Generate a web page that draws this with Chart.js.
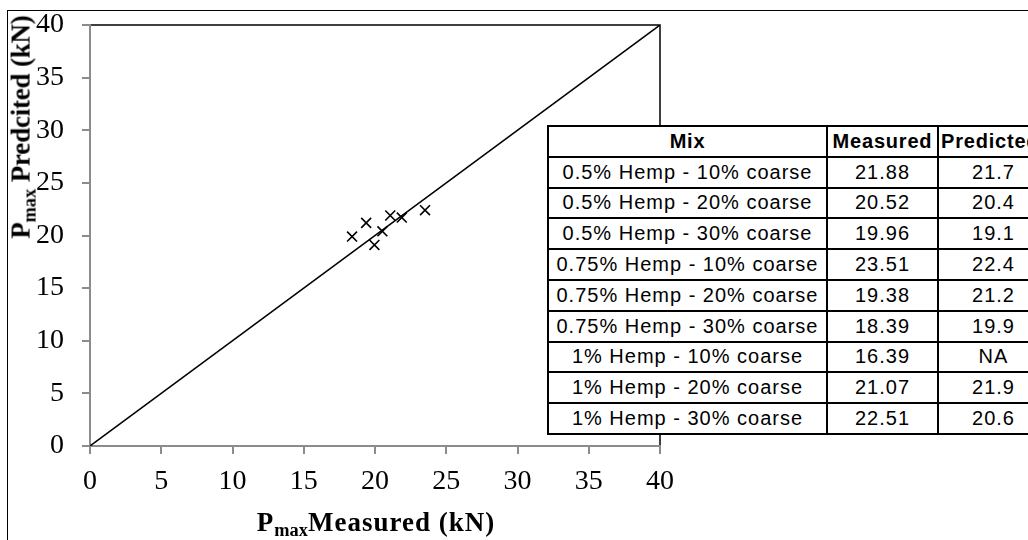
<!DOCTYPE html>
<html lang="en">
<head>
  <meta charset="UTF-8">
  <title>Pmax Measured vs Predicted</title>
  <style>
    html, body {
      margin: 0;
      padding: 0;
      background: #ffffff;
      width: 1028px;
      height: 540px;
      overflow: hidden;
    }
    .wrap {
      position: relative;
      width: 1028px;
      height: 540px;
      overflow: hidden;
    }
    .frame {
      position: absolute;
      left: 7px;
      top: 10px;
      width: 2000px;
      height: 2000px;
      border: 1px solid #000;
      box-sizing: border-box;
    }
    canvas {
      position: absolute;
      left: 0;
      top: 0;
    }
    .axis-title {
      position: absolute;
      font-family: 'Liberation Serif', 'Times New Roman', serif;
      font-weight: bold;
      font-size: 27px;
      white-space: nowrap;
      color: #000;
      line-height: 1;
    }
    .axis-title sub {
      font-size: 0.68em;
      vertical-align: -0.3em;
      letter-spacing: 0;
    }
    #xTitle {
      left: 376px;
      top: 524px;
      letter-spacing: 1px;
      transform: translate(-50%, -50%);
    }
    #yTitle {
      left: 23px;
      top: 127px;
      letter-spacing: -0.2px;
      transform: translate(-50%, -50%) rotate(-90deg);
    }
    table {
      position: absolute;
      left: 547px;
      top: 125px;
      width: 501px;
      max-width: none;
      border-collapse: collapse;
      font-family: 'Liberation Sans', Arial, sans-serif;
      font-size: 20px;
      letter-spacing: 1px;
      color: #000;
      background: #fff;
      table-layout: fixed;
    }
    td, th {
      border: 2px solid #000;
      height: 28.8px;
      padding: 0;
      text-align: center;
      white-space: nowrap;
      overflow: visible;
    }
    th { font-weight: bold; letter-spacing: 0.8px; }
    th.left { text-align: left; padding-left: 2px; }
  </style>
</head>
<body>
  <div class="wrap">
    <div class="frame"></div>
    <canvas id="chart" width="1028" height="540"></canvas>
    <div class="axis-title" id="xTitle">P<sub>max</sub>Measured (kN)</div>
    <div class="axis-title" id="yTitle">P<sub>max</sub> Predcited (kN)</div>
    <table id="mixTable">
      <colgroup>
        <col style="width:279px">
        <col style="width:111px">
        <col style="width:111px">
      </colgroup>
    </table>
  </div>

  <script src="https://cdn.jsdelivr.net/npm/chart.js"></script>
  <script>
    // table / data
    const headers = ["Mix", "Measured", "Predicted"];
    const mixes = [
      "0.5% Hemp - 10% coarse",
      "0.5% Hemp - 20% coarse",
      "0.5% Hemp - 30% coarse",
      "0.75% Hemp - 10% coarse",
      "0.75% Hemp - 20% coarse",
      "0.75% Hemp - 30% coarse",
      "1% Hemp - 10% coarse",
      "1% Hemp - 20% coarse",
      "1% Hemp - 30% coarse"
    ];
    const measured = ["21.88", "20.52", "19.96", "23.51", "19.38", "18.39", "16.39", "21.07", "22.51"];
    const predicted = ["21.7", "20.4", "19.1", "22.4", "21.2", "19.9", "NA", "21.9", "20.6"];

    // rows that appear as crosses on the chart
    const plottedRows = [0, 1, 2, 3, 4, 5, 7];

    // 1:1 reference line
    const lineX = [0, 40];
    const lineY = [0, 40];

    const axisMin = 0;
    const axisMax = 40;
    const axisStep = 5;

    // build table
    const table = document.getElementById("mixTable");
    let head = "<tr>";
    headers.forEach((h, i) => {
      head += `<th${i === 2 ? ' class="left"' : ''}>${h}</th>`;
    });
    head += "</tr>";
    let body = "";
    mixes.forEach((m, i) => {
      body += `<tr><td>${m}</td><td>${measured[i]}</td><td>${predicted[i]}</td></tr>`;
    });
    table.insertAdjacentHTML("beforeend", head + body);

    const points = plottedRows.map(i => ({ x: parseFloat(measured[i]), y: parseFloat(predicted[i]) }));
    const linePts = lineX.map((x, i) => ({ x: x, y: lineY[i] }));

    // black plot-area frame (top and right show; left/bottom are covered by gray axes)
    const plotFrame = {
      id: "plotFrame",
      beforeDraw(chart) {
        const a = chart.chartArea;
        const ctx = chart.ctx;
        ctx.save();
        ctx.strokeStyle = "#000";
        ctx.lineWidth = 1.5;
        ctx.strokeRect(a.left, a.top, a.right - a.left, a.bottom - a.top);
        ctx.restore();
      }
    };

    const tickFont = { family: "'Liberation Serif', 'Times New Roman', serif", size: 28 };
    const axisGray = "#8c8c8c";

    new Chart(document.getElementById("chart").getContext("2d"), {
      type: "scatter",
      data: {
        datasets: [
          {
            data: linePts,
            showLine: true,
            borderColor: "#000",
            borderWidth: 1.5,
            pointRadius: 0,
            fill: false
          },
          {
            data: points,
            showLine: false,
            pointStyle: "crossRot",
            pointRadius: 7,
            borderColor: "#000",
            borderWidth: 1.6,
            backgroundColor: "#000"
          }
        ]
      },
      options: {
        responsive: false,
        animation: false,
        devicePixelRatio: 1,
        layout: { padding: { left: 0, top: 25, right: 368, bottom: 0 } },
        plugins: {
          legend: { display: false },
          tooltip: { enabled: false }
        },
        scales: {
          x: {
            type: "linear",
            min: axisMin,
            max: axisMax,
            afterFit(scale) { scale.height = 94; },
            ticks: { stepSize: axisStep, color: "#000", font: tickFont, padding: 11, maxRotation: 0 },
            grid: { drawOnChartArea: false, drawTicks: true, tickLength: 8, color: axisGray, lineWidth: 2 },
            border: { color: axisGray, width: 2 }
          },
          y: {
            type: "linear",
            min: axisMin,
            max: axisMax,
            afterFit(scale) {
              scale.width = 90;
              scale.paddingTop = 0;
              scale.paddingBottom = 0;
            },
            ticks: { stepSize: axisStep, color: "#000", font: tickFont, padding: 18 },
            grid: { drawOnChartArea: false, drawTicks: true, tickLength: 8, color: axisGray, lineWidth: 2 },
            border: { color: axisGray, width: 2 }
          }
        }
      },
      plugins: [plotFrame]
    });
  </script>
</body>
</html>
